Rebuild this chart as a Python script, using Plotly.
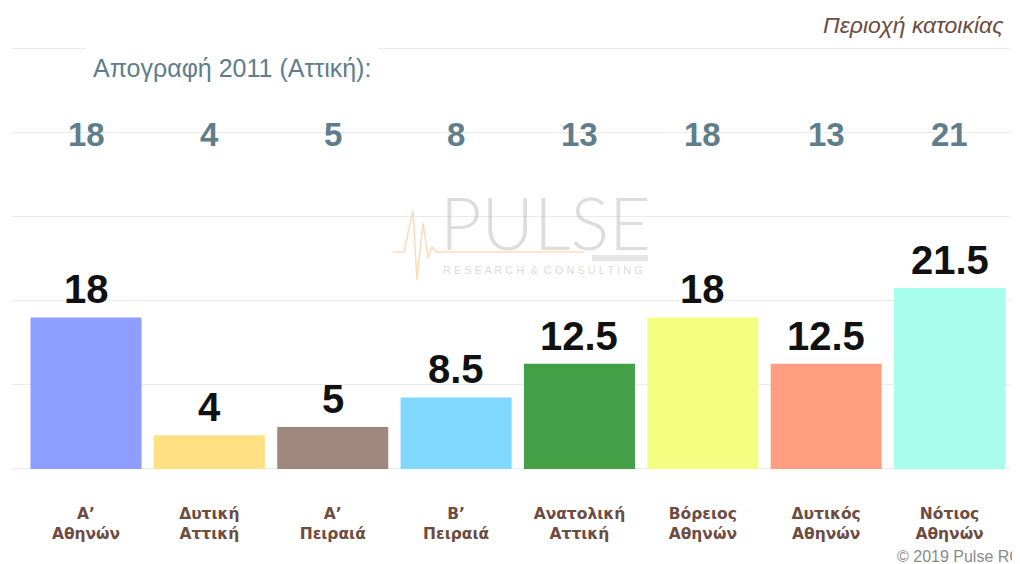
import plotly.graph_objects as go

categories = ["Α’<br>Αθηνών", "Δυτική<br>Αττική", "Α’<br>Πειραιά", "Β’<br>Πειραιά",
              "Ανατολική<br>Αττική", "Βόρειος<br>Αθηνών", "Δυτικός<br>Αθηνών", "Νότιος<br>Αθηνών"]
values = [18, 4, 5, 8.5, 12.5, 18, 12.5, 21.5]
census_2011 = [18, 4, 5, 8, 13, 18, 13, 21]
colors = ["#8C9EFF", "#FFE082", "#A1887F", "#80D8FF", "#43A047", "#F4FF81", "#FF9E80", "#A7FFEB"]
y_ticks = [0, 10, 20, 30, 40, 50]

FONT = "Liberation Sans, Arial, sans-serif"
xs = list(range(len(categories)))

# plot area in page pixels (page has an 8px body margin)
PL, PR, PT, PB = 12, 1010, 47, 470
Y0, Y1 = -0.12, 50.12


def px(x):
    return (x - PL) / (PR - PL)


def py(y):
    return (PB - y) / (PB - PT)


fig = go.Figure()
fig.add_trace(go.Bar(
    x=xs, y=values, marker=dict(color=colors, line=dict(width=0)),
    width=0.9, hoverinfo="x+y", showlegend=False,
))

# bar value labels
for x, v in zip(xs, values):
    fig.add_annotation(x=x, y=v, text=f"{v:g}", showarrow=False, yanchor="bottom",
                       yshift=4, font=dict(family=FONT, size=40, color="#111111", weight="bold"))

# census numbers row
for x, c in zip(xs, census_2011):
    fig.add_annotation(x=x, y=40, text=str(c), showarrow=False, yanchor="middle",
                       yshift=-2, font=dict(family=FONT, size=33, color="#607D8B", weight="bold"))

fig.add_annotation(xref="paper", yref="paper", x=px(86), y=py(68), xanchor="left", yanchor="middle",
                   text="Απογραφή 2011 (Αττική):", showarrow=False,
                   bgcolor="white", borderpad=6,
                   font=dict(family=FONT, size=25, color="#607D8B"))

fig.add_annotation(xref="paper", yref="paper", x=px(1006), y=py(25), xanchor="right", yanchor="middle",
                   text="<i>Περιοχή κατοικίας</i>", showarrow=False,
                   font=dict(family=FONT, size=23, color="#6D4C41"))

fig.add_annotation(xref="paper", yref="paper", x=px(895), y=py(556), xanchor="left", yanchor="middle",
                   text="© 2019 Pulse RC", showarrow=False,
                   font=dict(family=FONT, size=16, color="#8a8a8a"))

# watermark
fig.add_annotation(xref="paper", yref="paper", x=px(438), y=py(222), xanchor="left", yanchor="middle",
                   text="PULSE", showarrow=False,
                   font=dict(family="Lato", size=72, color="rgba(170,170,170,0.4)", weight=300))
fig.add_annotation(xref="paper", yref="paper", x=px(441), y=py(270), xanchor="left", yanchor="middle",
                   text="R E S E A R C H  &  C O N S U L T I N G", showarrow=False,
                   font=dict(family=FONT, size=11, color="rgba(170,170,170,0.45)"))
fig.add_shape(type="rect", xref="paper", yref="paper",
              x0=px(592), x1=px(648), y0=py(261), y1=py(255),
              fillcolor="rgba(190,190,190,0.4)", line=dict(width=0), layer="above")
pts = [(393, 252), (404, 252), (413, 210), (417, 280), (423, 223), (428, 257), (432, 247), (437, 252), (584, 252)]
path = "M " + " L ".join(f"{px(a):.4f},{py(b):.4f}" for a, b in pts)
fig.add_shape(type="path", xref="paper", yref="paper", path=path,
              line=dict(color="rgba(250,190,130,0.55)", width=1.5), layer="above")

fig.update_layout(
    width=1012, height=556,
    margin=dict(l=PL - 8, r=1012 - (PR - 8), t=PT - 8, b=556 - (PB - 8)),
    paper_bgcolor="white", plot_bgcolor="white",
    bargap=0.1,
    xaxis=dict(range=[-0.6, 7.49], tickvals=xs, ticktext=categories, showgrid=False,
               zeroline=False, showline=False, ticks="", ticklabelstandoff=32,
               tickfont=dict(family="DejaVu Sans, Verdana, sans-serif", size=15.5,
                             color="#6D4C41", weight="bold")),
    yaxis=dict(range=[Y0, Y1], tickvals=y_ticks, showticklabels=False, showgrid=True,
               gridcolor="#ebebeb", gridwidth=1, zeroline=False, showline=False),
    font=dict(family=FONT),
)

fig.write_html("out.html")
